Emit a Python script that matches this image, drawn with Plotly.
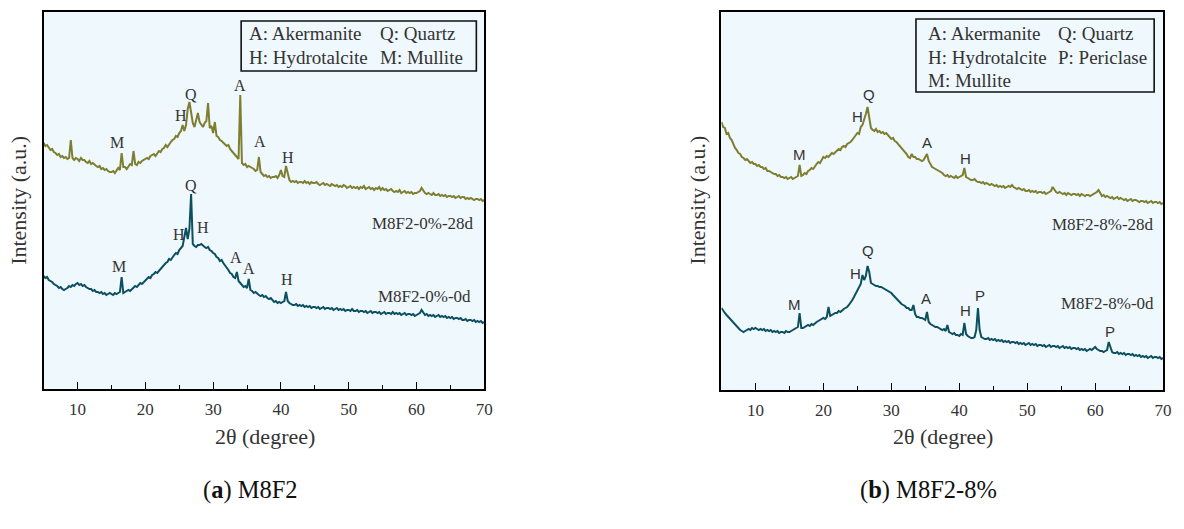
import plotly.graph_objects as go

# ---------------- data (intensity in a.u., scan 5-70 deg, step 0.25) ----------------
SCAN_START = 5.0
SCAN_STEP = 0.25

M8F2_0_28d = [
    246, 243, 244, 241,  239, 240, 237, 236,  234, 235, 232, 233,  231, 232, 230, 231,   # 5-8
    249, 231, 229, 231,  230, 228, 231, 229,  229, 227, 226, 228,  225, 226, 224, 223,   # 9-12
    222, 223, 220, 221,  219, 220, 218, 217,  217, 218, 216, 219,  221, 219, 236, 222,   # 13-16
    222, 220, 223, 225,  224, 238, 225, 224,  227, 226, 228, 229,  230, 231, 230, 233,   # 17-20
    234, 235, 233, 236,  238, 237, 240, 241,  244, 242, 245, 247,  249, 250, 253, 252,   # 21-24
    256, 258, 264, 258,  264, 280, 287, 278,  266, 262, 268, 276,  267, 264, 262, 266,   # 25-28
    268, 286, 261, 263,  256, 267, 253, 252,  249, 248, 246, 245,  243, 244, 240, 238,   # 29-32
    236, 234, 232, 230,  294, 226, 224, 225,  222, 223, 222, 221,  220, 218, 219, 232,   # 33-36
    217, 215, 213, 214,  212, 213, 211, 212,  212, 213, 211, 214,  219, 213, 212, 223,   # 37-40
    216, 209, 207, 208,  207, 208, 206, 207,  207, 206, 208, 206,  207, 205, 207, 206,   # 41-44
    206, 207, 205, 204,  205, 206, 204, 205,  204, 203, 205, 204,  203, 204, 202, 203,   # 45-48
    202, 204, 203, 201,  202, 203, 201, 202,  201, 202, 200, 202,  201, 203, 200, 201,   # 49-52
    202, 200, 201, 199,  201, 200, 202, 199,  201, 199, 200, 198,  199, 200, 198, 197,   # 53-56
    198, 197, 199, 196,  197, 198, 196, 197,  196, 197, 195, 196,  196, 197, 198, 201,   # 57-60
    198, 196, 195, 196,  195, 194, 196, 194,  194, 195, 193, 194,  193, 194, 192, 193,   # 61-64
    193, 192, 193, 191,  192, 193, 191, 192,  192, 190, 191, 190,  191, 190, 189, 190,   # 65-68
    190, 189, 190, 188,  189,                                                           # 69-70
]

M8F2_0_0d = [
    113, 111, 112, 109,  108, 107, 105, 104,  103, 101, 102, 100,  99, 100, 101, 103,    # 5-8
    102, 104, 103, 105,  106, 104, 105, 103,  104, 102, 101, 100,  100, 98, 99, 97,      # 9-12
    97, 96, 97, 95,  96, 94, 95, 96,  95, 94, 96, 95,  96, 97, 112, 96,                  # 13-16
    97, 98, 99, 98,  100, 101, 103, 102,  104, 106, 105, 107,  109, 110, 112, 111,       # 17-20
    114, 115, 117, 116,  118, 121, 122, 124,  126, 127, 130, 129,  132, 134, 136, 135,   # 21-24
    139, 141, 143, 152,  161, 150, 160, 195,  145, 143, 142, 144,  144, 145, 143, 142,   # 25-28
    141, 142, 139, 138,  136, 135, 132, 131,  128, 129, 126, 124,  121, 119, 116, 115,   # 29-32
    112, 111, 117, 108,  106, 104, 102, 103,  101, 110, 99, 98,  96, 97, 95, 94,         # 33-36
    93, 94, 92, 93,  91, 90, 91, 89,  87, 88, 86, 87,  86, 87, 88, 97,                   # 37-40
    88, 86, 85, 84,  84, 85, 83, 84,  83, 84, 82, 83,  82, 83, 81, 82,                   # 41-44
    82, 81, 82, 80,  81, 82, 80, 81,  81, 80, 81, 79,  80, 81, 79, 80,                   # 45-48
    79, 80, 78, 79,  79, 78, 80, 78,  78, 79, 77, 78,  78, 77, 78, 76,                   # 49-52
    77, 78, 76, 77,  77, 76, 77, 75,  76, 77, 75, 76,  76, 75, 77, 75,                   # 53-56
    76, 75, 76, 74,  75, 76, 74, 75,  75, 74, 75, 73,  74, 75, 76, 79,                   # 57-60
    76, 74, 75, 73,  74, 73, 74, 72,  73, 74, 72, 73,  72, 73, 71, 72,                   # 61-64
    71, 72, 70, 71,  71, 70, 71, 69,  69, 70, 68, 69,  69, 68, 69, 67,                   # 65-68
    68, 67, 68, 66,  67,                                                                # 69-70
]

M8F2_8_28d = [
    268, 263, 262, 256,  257, 252, 250, 245,  242, 240, 237, 236,  233, 232, 230, 231,   # 5-8
    229, 227, 228, 226,  226, 224, 225, 223,  223, 221, 222, 219,  219, 218, 217, 216,   # 9-12
    216, 214, 215, 213,  213, 212, 213, 211,  212, 213, 211, 212,  213, 214, 225, 214,   # 13-16
    215, 217, 216, 219,  220, 222, 221, 224,  226, 228, 227, 230,  233, 232, 234, 233,   # 17-20
    235, 237, 236, 238,  239, 241, 240, 243,  244, 243, 246, 247,  248, 250, 252, 254,   # 21-24
    257, 256, 263, 265,  270, 276, 283, 272,  262, 260, 259, 261,  258, 259, 257, 258,   # 25-28
    256, 257, 255, 253,  251, 252, 249, 248,  246, 245, 243, 241,  238, 236, 233, 232,   # 29-32
    236, 233, 233, 231,  231, 230, 229, 230,  233, 236, 229, 226,  223, 222, 221, 220,   # 33-36
    219, 218, 217, 215,  214, 215, 213, 214,  213, 212, 214, 212,  213, 214, 215, 222,   # 37-40
    213, 212, 211, 210,  210, 211, 209, 208,  208, 207, 208, 206,  207, 206, 205, 206,   # 41-44
    205, 204, 205, 203,  204, 203, 204, 202,  203, 204, 203, 205,  203, 202, 201, 202,   # 45-48
    201, 200, 201, 199,  199, 200, 198, 199,  198, 199, 197, 198,  198, 197, 198, 196,   # 49-52
    197, 198, 199, 203,  200, 198, 197, 198,  197, 196, 197, 195,  197, 196, 195, 196,   # 53-56
    196, 195, 196, 194,  196, 195, 194, 195,  195, 194, 195, 196,  197, 198, 200, 197,   # 57-60
    194, 195, 193, 194,  193, 192, 193, 191,  192, 193, 191, 192,  191, 190, 191, 189,   # 61-64
    190, 191, 189, 190,  190, 189, 188, 189,  189, 188, 189, 187,  188, 189, 187, 188,   # 65-68
    188, 187, 188, 186,  187,                                                           # 69-70
]

M8F2_8_0d = [
    82, 79, 77, 75,  73, 71, 69, 67,  65, 63, 61, 60,  59, 58, 59, 60,                   # 5-8
    61, 60, 62, 61,  62, 61, 60, 61,  60, 61, 59, 60,  59, 60, 58, 59,                   # 9-12
    58, 59, 57, 58,  58, 57, 59, 58,  58, 59, 60, 61,  62, 63, 77, 62,                   # 13-16
    62, 63, 64, 65,  64, 66, 65, 67,  68, 69, 70, 71,  72, 71, 73, 83,                   # 17-20
    74, 75, 76, 77,  77, 79, 78, 80,  81, 82, 83, 85,  87, 90, 93, 96,                   # 21-24
    99, 102, 106, 115,  110, 114, 124, 118,  107, 106, 105, 104,  104, 103, 103, 102,    # 25-28
    101, 100, 99, 98,  97, 95, 93, 91,  89, 88, 86, 85,  84, 82, 82, 80,                 # 29-32
    80, 85, 76, 73,  73, 72, 72, 71,  70, 78, 68, 66,  65, 64, 63, 63,                   # 33-36
    62, 61, 60, 61,  59, 65, 58, 57,  56, 57, 55, 55,  54, 56, 55, 67,                   # 37-40
    56, 54, 53, 52,  52, 53, 60, 82,  60, 53, 52, 51,  51, 52, 50, 51,                   # 41-44
    50, 51, 49, 50,  49, 50, 48, 49,  48, 49, 47, 48,  48, 47, 48, 46,                   # 45-48
    47, 46, 47, 45,  46, 47, 45, 46,  45, 46, 44, 45,  45, 44, 45, 43,                   # 49-52
    44, 45, 43, 44,  44, 43, 44, 42,  43, 44, 42, 43,  42, 43, 41, 42,                   # 53-56
    42, 41, 42, 40,  41, 40, 41, 39,  40, 41, 40, 42,  43, 41, 40, 39,                   # 57-60
    39, 38, 39, 40,  48, 42, 38, 37,  37, 38, 36, 37,  36, 37, 35, 36,                   # 61-64
    36, 35, 36, 34,  35, 34, 35, 33,  34, 33, 34, 32,  33, 34, 32, 33,                   # 65-68
    33, 32, 33, 31,  32,                                                                # 69-70
]

SERIES_NAMES = ["M8F2-0%-28d", "M8F2-0%-0d", "M8F2-8%-28d", "M8F2-8%-0d"]
X_TICKS = [10, 20, 30, 40, 50, 60, 70]
LEGEND_LEFT = [["A: Akermanite", "Q: Quartz"], ["H: Hydrotalcite", "M: Mullite"]]
LEGEND_RIGHT = [["A: Akermanite", "Q: Quartz"], ["H: Hydrotalcite", "P: Periclase"], ["M: Mullite", ""]]

# peak labels: (panel, letter, 2theta, intensity)
PEAK_LABELS = [
    (0, "M", 15.8, 247), (0, "H", 25.2, 274), (0, "Q", 26.8, 295), (0, "A", 33.95, 304),
    (0, "A", 36.95, 248), (0, "H", 41.0, 232),
    (0, "Q", 26.8, 204), (0, "H", 24.9, 155), (0, "H", 28.5, 162), (0, "M", 16.1, 123),
    (0, "A", 33.4, 132), (0, "A", 35.25, 121), (0, "H", 40.9, 110),
    (1, "M", 16.5, 236), (1, "H", 25.0, 274), (1, "Q", 26.75, 296), (1, "A", 35.2, 248),
    (1, "H", 40.9, 232),
    (1, "Q", 26.6, 140), (1, "H", 24.7, 117), (1, "M", 15.8, 86), (1, "A", 35.05, 92),
    (1, "H", 40.9, 80), (1, "P", 43.0, 95), (1, "P", 62.2, 59),
]
# series label anchors (right aligned): (panel, name index, 2theta, intensity)
SERIES_LABELS = [(0, 0, 68.85, 166), (0, 1, 68.4, 93), (1, 2, 69.0, 166), (1, 3, 69.0, 87)]

# ---------------- figure ----------------
W, H = 1184, 529
def fx(p):
    return p / W
def fy(p):
    return 1 - p / H

OLIVE = "#7e7e30"
TEAL = "#0b4f60"
TXT = "#333333"
SERIF = "Liberation Serif"
SANS = "Liberation Sans"

two_theta = [SCAN_START + SCAN_STEP * i for i in range(len(M8F2_0_28d))]

fig = go.Figure()
for ys, col, xa, ya in [
    (M8F2_0_28d, OLIVE, "x", "y"), (M8F2_0_0d, TEAL, "x", "y"),
    (M8F2_8_28d, OLIVE, "x2", "y2"), (M8F2_8_0d, TEAL, "x2", "y2"),
]:
    fig.add_trace(go.Scatter(x=two_theta, y=ys, mode="lines", xaxis=xa, yaxis=ya,
                             line=dict(color=col, width=2.0), showlegend=False,
                             hoverinfo="skip"))

xcommon = dict(range=[5, 70], showline=True, mirror=True, linecolor="black", linewidth=1.5,
               ticks="inside", ticklen=7, tickwidth=1.4, tickcolor="black",
               tickvals=X_TICKS, showgrid=False, zeroline=False,
               tickfont=dict(family=SERIF, size=17, color=TXT), ticklabelstandoff=4,
               minor=dict(ticks="inside", ticklen=4, tickwidth=1.2, tickcolor="black",
                          tick0=5, dtick=10, showgrid=False))
ycommon = dict(showline=True, mirror=True, linecolor="black", linewidth=1.5,
               showticklabels=False, ticks="", showgrid=False, zeroline=False)

fig.update_layout(
    width=W, height=H, margin=dict(l=0, r=0, t=0, b=0),
    paper_bgcolor="white", plot_bgcolor="#eff8fc",
    xaxis=dict(domain=[fx(44), fx(488)], anchor="y", **xcommon),
    yaxis=dict(domain=[fy(389), fy(12)], range=[0, 377], anchor="x", **ycommon),
    xaxis2=dict(domain=[fx(727), fx(1172)], anchor="y2", **xcommon),
    yaxis2=dict(domain=[fy(390), fy(12)], range=[0, 378], anchor="x2", **ycommon),
)

ann = []
shapes = []

def paper_text(cx, cy, text, size, xanchor="center", color=TXT, angle=0):
    ann.append(dict(xref="paper", yref="paper", x=fx(cx), y=fy(cy), text=text,
                    xanchor=xanchor, yanchor="middle", textangle=angle, showarrow=False,
                    font=dict(family=SERIF, size=size, color=color)))

# axis titles and subtitles
for cx in [18, 702]:
    paper_text(cx, 200, "Intensity (a.u.)", 22, angle=-90)
for cx in [267, 950]:
    paper_text(cx, 436, "2θ (degree)", 22)
paper_text(252, 490, "(<b>a</b>) M8F2", 24.5, color="#111")
paper_text(936, 490, "(<b>b</b>) M8F2-8%", 24.5, color="#111")

# peak letters
for panel, letter, xx, yy in PEAK_LABELS:
    ann.append(dict(xref="x" if panel == 0 else "x2", yref="y" if panel == 0 else "y2",
                    x=xx, y=yy, text=letter, showarrow=False,
                    xanchor="center", yanchor="middle",
                    font=dict(family=SERIF if panel == 0 else SANS, size=16 if panel == 0 else 15,
                              color=TXT)))
# series names
for panel, idx, xx, yy in SERIES_LABELS:
    ann.append(dict(xref="x" if panel == 0 else "x2", yref="y" if panel == 0 else "y2",
                    x=xx, y=yy, text=SERIES_NAMES[idx], showarrow=False,
                    xanchor="right", yanchor="middle",
                    font=dict(family=SERIF, size=17, color=TXT)))

# legend boxes
for box, rows, cols, row_y in [
    ((243, 21, 480, 71), LEGEND_LEFT, (249, 381), (33, 57)),
    ((923, 19, 1163, 92), LEGEND_RIGHT, (933, 1064), (33, 57, 80)),
]:
    x0, y0, x1, y1 = box
    shapes.append(dict(type="rect", xref="paper", yref="paper", x0=fx(x0), x1=fx(x1),
                       y0=fy(y1), y1=fy(y0), line=dict(color="#111", width=1.6),
                       fillcolor="rgba(0,0,0,0)"))
    for r, row in enumerate(rows):
        for c, txt in enumerate(row):
            if txt:
                paper_text(cols[c], row_y[r], txt, 19, xanchor="left")

fig.update_layout(annotations=ann, shapes=shapes)
fig.write_html("out.html")
